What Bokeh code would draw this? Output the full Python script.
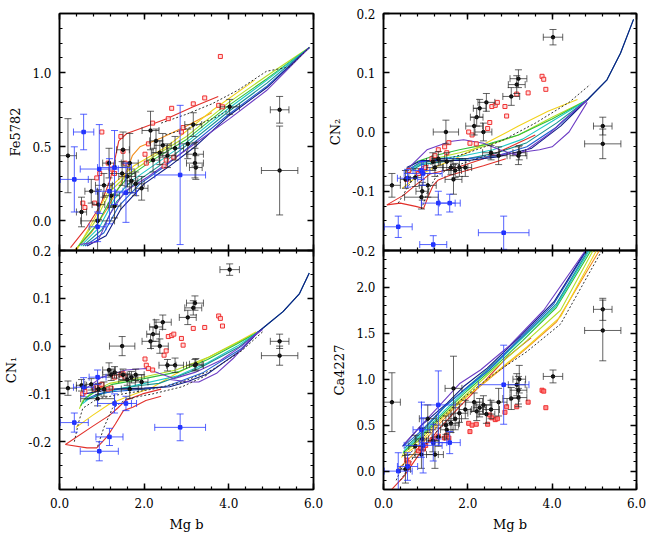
import numpy as np
from bokeh.plotting import figure
from bokeh.models import (ColumnDataSource, Whisker, TeeHead, LinearAxis,
                          SingleIntervalTicker, PrintfTickFormatter, Range1d)
from bokeh.layouts import row, column
from bokeh.embed import file_html
from bokeh.resources import INLINE

# ---------------- observed objects (shared Mg b across panels) ----------------
blk_mgb = [0.2, 0.52, 0.75, 0.9, 0.92, 1.05, 1.17, 1.22, 1.3, 1.48, 1.5, 1.6, 1.66, 1.7, 1.8, 1.94,
           2.15, 2.21, 2.28, 2.37, 2.44, 2.55, 2.73, 3.03, 3.16, 3.2, 3.2, 3.22, 4.02, 5.2, 5.2]
blk_mgb_err = [0.2, 0.12, 0.15, 0.4, 0.15, 0.2, 0.15, 0.2, 0.15, 0.3, 0.15, 0.2, 0.2, 0.15, 0.2, 0.15,
               0.2, 0.15, 0.15, 0.2, 0.2, 0.2, 0.2, 0.2, 0.2, 0.2, 0.2, 0.15, 0.23, 0.22, 0.43]
blk_fe = [0.44, 0.06, 0.2, 0.0, 0.11, 0.24, 0.39, 0.17, 0.1, 0.32, 0.48, 0.3, 0.39, 0.27, 0.25, 0.22,
          0.61, 0.41, 0.54, 0.46, 0.51, 0.44, 0.49, 0.52, 0.65, 0.45, 0.39, 0.36, 0.77, 0.75, 0.34]
blk_fe_err = [0.25, 0.1, 0.08, 0.2, 0.1, 0.08, 0.1, 0.08, 0.08, 0.08, 0.12, 0.07, 0.2, 0.08, 0.08, 0.08,
              0.13, 0.08, 0.08, 0.08, 0.08, 0.08, 0.08, 0.1, 0.08, 0.08, 0.1, 0.08, 0.05, 0.09, 0.3]
blk_cn2 = [-0.09, -0.08, -0.077, -0.11, -0.1, -0.09, -0.05, -0.06, -0.045, 0.0, -0.05, -0.06, -0.08,
           -0.065, -0.06, -0.06, 0.01, 0.025, 0.04, 0.0, 0.05, -0.035, -0.04, 0.06, 0.08, 0.09, -0.04,
           -0.035, 0.16, 0.01, -0.02]
blk_cn2_err = [0.02, 0.015, 0.015, 0.02, 0.015, 0.02, 0.015, 0.015, 0.012, 0.02, 0.015, 0.012, 0.025,
               0.012, 0.015, 0.015, 0.015, 0.015, 0.015, 0.015, 0.015, 0.012, 0.015, 0.015, 0.015,
               0.015, 0.015, 0.012, 0.013, 0.015, 0.025]
blk_cn1 = [-0.088, -0.082, -0.08, -0.11, -0.09, -0.09, -0.05, -0.06, -0.055, 0.0, -0.06, -0.07, -0.09,
           -0.065, -0.06, -0.075, 0.01, 0.025, 0.04, 0.0, 0.05, -0.04, -0.04, 0.06, 0.08, 0.09, -0.04,
           -0.038, 0.16, 0.01, -0.02]
blk_cn1_err = [0.015, 0.012, 0.012, 0.015, 0.012, 0.015, 0.015, 0.012, 0.012, 0.02, 0.012, 0.012, 0.02,
               0.012, 0.012, 0.015, 0.015, 0.015, 0.015, 0.015, 0.015, 0.012, 0.015, 0.015, 0.015,
               0.015, 0.012, 0.012, 0.012, 0.015, 0.02]
blk_ca = [0.75, 0.02, 0.27, 0.18, 0.35, 0.57, 0.33, 0.18, 0.37, 0.5, 0.45, 0.52, 0.9, 0.57, 0.63, 0.67,
          0.75, 0.65, 0.69, 0.72, 0.62, 0.67, 0.75, 0.79, 0.94, 0.88, 0.8, 1.0, 1.03, 1.76, 1.53]
blk_ca_err = [0.32, 0.15, 0.12, 0.15, 0.12, 0.15, 0.12, 0.15, 0.1, 0.1, 0.1, 0.1, 0.35, 0.12, 0.1, 0.1,
              0.1, 0.1, 0.1, 0.1, 0.1, 0.1, 0.15, 0.12, 0.12, 0.15, 0.1, 0.15, 0.07, 0.12, 0.33]

blu_mgb = [0.35, 0.57, 0.94, 1.18, 1.3, 1.57, 2.85, 0.9]
blu_mgb_err = [0.33, 0.24, 0.45, 0.32, 0.4, 0.25, 0.6, 0.2]
blu_fe = [0.28, 0.60, 0.35, 0.2, 0.36, 0.19, 0.31, -0.04]
blu_fe_err = [0.22, 0.12, 0.3, 0.22, 0.25, 0.2, 0.47, 0.1]
blu_cn2 = [-0.16, -0.078, -0.07, -0.19, -0.12, -0.12, -0.17, -0.065]
blu_cn2_err = [0.018, 0.015, 0.02, 0.015, 0.02, 0.015, 0.028, 0.015]
blu_cn1 = [-0.16, -0.086, -0.22, -0.19, -0.12, -0.12, -0.17, -0.065]
blu_cn1_err = [0.02, 0.02, 0.02, 0.018, 0.02, 0.015, 0.028, 0.015]
blu_ca = [0.0, 0.05, 0.28, 0.31, 0.72, 0.31, 0.94, 0.45]
blu_ca_err = [0.2, 0.15, 0.3, 0.2, 0.37, 0.12, 0.43, 0.3]

red_mgb = [0.55, 0.6, 0.83, 0.88, 0.95, 1.0, 1.15, 1.22, 1.3, 1.45, 1.5, 1.55, 2.02, 2.05, 2.1, 2.2,
           2.47, 2.52, 2.57, 2.65, 2.7, 2.88, 2.92, 3.16, 3.43, 3.76, 3.8, 3.85]
red_fe = [0.12, 0.09, 0.12, 0.29, 0.32, 0.6, 0.39, 0.35, 0.32, 0.57, 0.47, 0.39, 0.45, 0.39, 0.52, 0.66,
          0.37, 0.41, 0.69, 0.76, 0.43, 0.6, 0.63, 0.79, 0.83, 0.78, 1.11, 0.77]
red_cn2 = [-0.08, -0.065, -0.07, -0.065, -0.062, -0.06, -0.045, -0.04, -0.03, -0.025, -0.035, -0.018,
           0.0, -0.019, -0.005, -0.02, 0.006, 0.016, 0.043, 0.045, 0.05, 0.043, 0.027, 0.064, 0.066,
           0.094, 0.089, 0.072]
red_cn1 = [-0.1, -0.095, -0.09, -0.085, -0.082, -0.08, -0.09, -0.088, -0.065, -0.06, -0.058, -0.065,
           -0.027, -0.04, -0.047, -0.05, -0.019, -0.01, 0.02, 0.022, 0.025, 0.016, 0.002, 0.037, 0.039,
           0.063, 0.058, 0.042]
red_ca = [0.12, 0.09, 0.22, 0.25, 0.24, 0.28, 0.34, 0.36, 0.38, 0.36, 0.39, 0.36, 0.52, 0.43, 0.5, 0.51,
          0.51, 0.61, 0.58, 0.56, 0.57, 0.64, 0.7, 0.7, 0.75, 0.88, 0.87, 0.69]

# ---------------- model tracks ----------------
fe_keys = ["r", "o", "y", "yg", "g", "c", "t", "b", "n", "p", "k", "k"]
fe_tx = [[0.26, 0.65, 0.96, 1.2, 1.32, 1.4, 1.59, 1.98, 2.53, 3.16, 3.75],
         [0.35, 0.75, 1.1, 1.45, 1.62, 1.72, 1.9, 2.4, 3.0, 3.6],
         [0.4, 0.85, 1.2, 1.75, 2.53, 3.63, 4.61],
         [0.42, 0.85, 1.2, 1.6, 2.2, 3.0, 4.0, 4.9, 5.9],
         [0.45, 0.9, 1.25, 1.6, 2.2, 3.0, 4.0, 4.9, 5.9],
         [0.5, 0.95, 1.3, 1.7, 2.3, 3.0, 4.0, 4.9, 5.9],
         [0.55, 1.0, 1.35, 1.8, 2.4, 3.0, 4.0, 4.9, 5.9],
         [0.6, 1.05, 1.4, 1.9, 2.5, 3.1, 4.0, 4.9, 5.9],
         [0.65, 1.1, 1.45, 2.0, 2.6, 3.2, 4.0, 4.9, 5.9],
         [0.48, 0.9, 1.2, 1.55, 2.1, 3.0, 4.02, 4.89, 5.9],
         [2.4, 3.0, 3.6, 4.2, 4.89, 5.44, 5.9],
         [2.5, 3.1, 3.7, 4.2]]
fe_ty = [[-0.18, -0.04, 0.10, 0.28, 0.43, 0.54, 0.59, 0.63, 0.69, 0.77, 0.84],
         [-0.2, -0.08, 0.07, 0.25, 0.36, 0.44, 0.5, 0.56, 0.64, 0.73],
         [-0.2, 0.03, 0.23, 0.37, 0.50, 0.75, 0.95],
         [-0.18, 0.0, 0.2, 0.31, 0.43, 0.57, 0.8, 0.98, 1.17],
         [-0.17, -0.02, 0.17, 0.29, 0.41, 0.55, 0.78, 0.96, 1.17],
         [-0.17, -0.04, 0.15, 0.27, 0.39, 0.53, 0.76, 0.95, 1.17],
         [-0.17, -0.06, 0.13, 0.26, 0.38, 0.51, 0.74, 0.93, 1.17],
         [-0.17, -0.08, 0.1, 0.25, 0.37, 0.51, 0.72, 0.91, 1.17],
         [-0.17, -0.1, 0.08, 0.25, 0.37, 0.5, 0.71, 0.9, 1.17],
         [-0.16, -0.14, 0.05, 0.2, 0.3, 0.48, 0.69, 0.88, 1.17],
         [0.66, 0.72, 0.79, 0.88, 1.01, 1.04, 1.17],
         [0.58, 0.63, 0.7, 0.78]]

cn2_keys = ["r", "r", "y", "yg", "g", "c", "t", "b", "n", "p", "p", "k", "k"]
cn2_tx = [[0.08, 0.4, 0.79, 0.95, 1.07, 1.18, 1.3, 1.58, 1.97, 2.37, 2.9],
          [0.08, 0.47, 0.79, 1.1, 1.74, 2.37, 3.0, 3.6],
          [0.45, 0.8, 1.2, 1.7, 2.4, 3.2, 3.9, 4.6],
          [0.5, 0.8, 1.2, 1.8, 2.5, 3.2, 4.0, 4.83],
          [0.5, 0.8, 1.2, 1.8, 2.5, 3.2, 4.0, 4.83],
          [0.52, 0.85, 1.3, 1.9, 2.6, 3.3, 4.0, 4.83],
          [0.55, 0.9, 1.4, 2.0, 2.7, 3.4, 4.1, 4.83, 5.3, 5.62, 5.93],
          [0.55, 0.9, 1.4, 2.0, 2.7, 3.4, 4.1, 4.83],
          [0.55, 0.9, 1.4, 2.0, 2.7, 3.5, 4.2, 4.83, 5.3, 5.62, 5.93],
          [0.55, 1.03, 1.58, 1.9, 2.37, 2.76, 3.16, 3.4, 3.95, 4.27, 4.83],
          [2.5, 3.2, 3.7, 4.0, 4.4, 4.83],
          [0.35, 0.6, 0.9, 1.3, 2.0, 2.8, 3.6, 4.4, 4.9],
          [0.9, 1.05, 1.25, 1.6, 2.2, 2.9]]
cn2_ty = [[-0.123, -0.12, -0.126, -0.129, -0.107, -0.09, -0.081, -0.073, -0.065, -0.057, -0.045],
          [-0.123, -0.107, -0.088, -0.071, -0.06, -0.045, -0.025, -0.005],
          [-0.095, -0.075, -0.06, -0.045, -0.02, 0.01, 0.035, 0.055],
          [-0.07, -0.055, -0.045, -0.035, -0.022, -0.005, 0.025, 0.054],
          [-0.065, -0.05, -0.04, -0.03, -0.02, -0.005, 0.022, 0.054],
          [-0.068, -0.055, -0.045, -0.04, -0.03, -0.012, 0.018, 0.054],
          [-0.07, -0.055, -0.05, -0.045, -0.035, -0.018, 0.015, 0.054, 0.088, 0.133, 0.19],
          [-0.065, -0.05, -0.045, -0.045, -0.04, -0.025, 0.008, 0.054],
          [-0.06, -0.048, -0.048, -0.048, -0.042, -0.028, 0.01, 0.054, 0.088, 0.133, 0.19],
          [-0.064, -0.03, -0.016, -0.013, -0.019, -0.03, -0.039, -0.03, -0.002, 0.02, 0.054],
          [-0.04, -0.035, -0.03, -0.025, 0.0, 0.05],
          [-0.12, -0.09, -0.06, -0.05, -0.035, -0.015, 0.015, 0.05, 0.08],
          [-0.13, -0.1, -0.075, -0.06, -0.045, -0.03]]

cn1_keys = ["r", "r", "y", "yg", "g", "c", "t", "b", "n", "p", "p", "k", "k"]
cn1_tx = [[0.14, 0.65, 0.88, 1.12, 1.32, 1.51, 1.73, 2.04, 2.4],
          [0.14, 0.78, 1.18, 1.37, 1.57, 1.96, 2.4],
          [0.39, 0.78, 1.18, 1.57, 2.2, 2.75, 3.53, 4.24, 4.65],
          [0.47, 0.55, 0.78, 1.18, 1.96, 2.75, 3.53, 4.24, 4.7],
          [0.5, 0.6, 0.85, 1.25, 2.0, 2.8, 3.5, 4.2, 4.7],
          [0.55, 0.7, 1.0, 1.4, 2.0, 2.8, 3.5, 4.2, 4.7],
          [0.6, 0.8, 1.18, 1.96, 2.35, 2.75, 3.29, 4.24, 4.7, 5.28, 5.67, 5.9],
          [0.65, 0.9, 1.3, 2.0, 2.5, 2.9, 3.4, 4.3, 4.7],
          [0.6, 0.9, 1.3, 2.0, 2.6, 3.0, 3.5, 4.3, 4.7, 5.28, 5.67, 5.9],
          [0.6, 1.0, 1.57, 2.04, 2.35, 2.7, 3.2, 3.8, 4.3, 4.7],
          [2.6, 3.08, 3.29, 3.71, 4.1, 4.56, 4.8],
          [0.35, 0.45, 0.55, 0.9, 1.5, 2.2, 2.9, 3.6, 4.3, 4.8],
          [0.9, 1.05, 1.25, 1.6, 2.2, 2.9, 3.5]]
cn1_ty = [[-0.206, -0.213, -0.213, -0.19, -0.163, -0.135, -0.128, -0.114, -0.105],
          [-0.206, -0.168, -0.145, -0.13, -0.113, -0.1, -0.09],
          [-0.17, -0.145, -0.121, -0.107, -0.086, -0.058, -0.023, 0.01, 0.03],
          [-0.131, -0.114, -0.096, -0.078, -0.065, -0.05, -0.023, 0.009, 0.03],
          [-0.125, -0.11, -0.095, -0.08, -0.068, -0.054, -0.028, 0.005, 0.03],
          [-0.12, -0.11, -0.1, -0.09, -0.078, -0.062, -0.035, 0.0, 0.03],
          [-0.113, -0.107, -0.092, -0.082, -0.078, -0.065, -0.047, -0.002, 0.03, 0.072, 0.11, 0.153],
          [-0.11, -0.1, -0.095, -0.09, -0.085, -0.072, -0.055, -0.005, 0.03],
          [-0.1, -0.095, -0.09, -0.088, -0.085, -0.075, -0.058, -0.008, 0.03, 0.072, 0.11, 0.153],
          [-0.09, -0.065, -0.05, -0.047, -0.057, -0.068, -0.055, -0.03, 0.0, 0.03],
          [-0.07, -0.075, -0.075, -0.057, -0.026, 0.018, 0.035],
          [-0.2, -0.16, -0.13, -0.11, -0.1, -0.09, -0.075, -0.05, -0.01, 0.03],
          [-0.21, -0.17, -0.13, -0.11, -0.1, -0.085, -0.06]]

ca_keys = ["r", "o", "y", "yg", "g", "c", "t", "b", "n", "p", "k", "k"]
ca_tx = [[0.09, 0.48, 0.9, 1.3, 1.8, 2.4, 2.93, 3.5],
         [0.3, 0.7, 1.2, 1.8, 2.5, 3.3, 4.1, 5.12],
         [0.42, 0.85, 1.4, 2.0, 2.6, 3.4, 4.2, 5.05],
         [0.45, 0.9, 1.45, 2.0, 2.6, 3.4, 4.2, 4.97],
         [0.46, 0.9, 1.45, 2.0, 2.6, 3.3, 4.1, 4.92],
         [0.48, 0.9, 1.45, 1.95, 2.5, 3.3, 4.1, 4.88],
         [0.5, 0.9, 1.45, 1.95, 2.5, 3.3, 4.1, 4.85],
         [0.5, 0.9, 1.4, 1.9, 2.5, 3.25, 4.04, 4.82],
         [0.45, 0.88, 1.51, 1.9, 2.46, 3.25, 4.04, 4.8],
         [0.5, 0.9, 1.3, 1.8, 2.3, 3.0, 3.8, 4.79],
         [0.3, 0.5, 0.8, 1.3, 1.9, 2.6, 3.4, 4.2, 5.18],
         [0.4, 0.55, 0.7, 1.0, 1.3]]
ca_ty = [[-0.25, -0.06, 0.22, 0.45, 0.7, 0.98, 1.24, 1.45],
         [0.0, 0.18, 0.45, 0.75, 1.0, 1.3, 1.62, 2.4],
         [0.15, 0.3, 0.58, 0.82, 1.05, 1.35, 1.68, 2.4],
         [0.18, 0.36, 0.62, 0.85, 1.1, 1.42, 1.75, 2.4],
         [0.2, 0.38, 0.64, 0.88, 1.12, 1.42, 1.78, 2.4],
         [0.22, 0.4, 0.66, 0.88, 1.1, 1.45, 1.8, 2.4],
         [0.25, 0.42, 0.7, 0.9, 1.12, 1.46, 1.82, 2.4],
         [0.28, 0.44, 0.68, 0.88, 1.1, 1.45, 1.82, 2.4],
         [0.27, 0.49, 0.74, 0.92, 1.12, 1.47, 1.84, 2.4],
         [0.3, 0.5, 0.7, 0.95, 1.1, 1.37, 1.75, 2.4],
         [-0.1, 0.1, 0.3, 0.55, 0.8, 1.05, 1.3, 1.6, 2.4],
         [-0.1, 0.0, 0.15, 0.3, 0.45]]

# ---------------- styles ----------------
PAL = {"r": "#e2302a", "o": "#f3901e", "y": "#f2d21c", "yg": "#b4df26", "g": "#2fbf3a",
       "c": "#1fc9c6", "t": "#14918f", "b": "#1e5fd2", "n": "#0d1a86", "p": "#6d3cc4", "k": "#333333"}
FONT = "DejaVu Serif"


def style_axis(ax, ticker, labels):
    ax.ticker = ticker
    ax.formatter = PrintfTickFormatter(format="%.1f")
    ax.major_tick_in = 6
    ax.major_tick_out = 0
    ax.minor_tick_in = 3
    ax.minor_tick_out = 0
    ax.axis_line_color = "black"
    ax.axis_line_width = 1.5
    ax.major_tick_line_color = "black"
    ax.major_tick_line_width = 1.5
    ax.minor_tick_line_color = "black"
    ax.minor_tick_line_width = 1.2
    if labels:
        ax.major_label_text_font = FONT
        ax.major_label_text_font_size = "12px"
        ax.major_label_text_color = "black"
        ax.major_label_standoff = 8
        ax.axis_label_text_font = FONT
        ax.axis_label_text_font_size = "13px"
        ax.axis_label_text_font_style = "normal"
        ax.axis_label_text_color = "black"
        ax.axis_label_standoff = 6
    else:
        ax.major_label_text_font_size = "0px"
        ax.major_label_text_color = None
        ax.major_label_standoff = 0
        ax.axis_label_standoff = 0


def make_panel(yr, yint, ylabel, xlabels, fw, fh, bl, br, bt, bb,
               keys, tx, ty, by, bye, uy, uye, ry, red_fill):
    p = figure(frame_width=fw, frame_height=fh, x_range=Range1d(0, 6), y_range=Range1d(*yr),
               output_backend="svg", toolbar_location=None,
               min_border_left=bl, min_border_right=br, min_border_top=bt, min_border_bottom=bb)
    p.outline_line_color = "black"
    p.outline_line_width = 1.5
    p.xgrid.visible = False
    p.ygrid.visible = False
    if xlabels:
        # lower panels overlap the upper panels' bottom strip (transparent)
        p.background_fill_color = None
        p.border_fill_color = None
        p.margin = (-16, 0, 0, 0)
    xt = SingleIntervalTicker(interval=2, num_minor_ticks=5)
    yt = SingleIntervalTicker(interval=yint, num_minor_ticks=(4 if yint < 0.3 else 5))
    style_axis(p.xaxis[0], xt, xlabels)
    if xlabels:
        p.xaxis[0].axis_label = "Mg b"
    style_axis(p.yaxis[0], yt, True)
    p.yaxis[0].axis_label = ylabel
    top = LinearAxis()
    style_axis(top, xt, False)
    p.add_layout(top, "above")
    right = LinearAxis()
    style_axis(right, yt, False)
    p.add_layout(right, "right")

    for k, xs, ys in zip(keys, tx, ty):
        if k == "k":
            p.line(xs, ys, line_color=PAL[k], line_width=1, line_dash="2 2")
        else:
            p.line(xs, ys, line_color=PAL[k], line_width=1.1)

    def bars(xv, xe, yv, ye, color, alpha):
        xv = np.array(xv, float); xe = np.array(xe, float)
        yv = np.array(yv, float); ye = np.array(ye, float)
        src = ColumnDataSource(dict(x=xv, y=yv, xl=xv - xe, xu=xv + xe, yl=yv - ye, yu=yv + ye))
        for base, lo, up, dim in (("y", "xl", "xu", "width"), ("x", "yl", "yu", "height")):
            w = Whisker(source=src, base=base, lower=lo, upper=up, dimension=dim,
                        line_color=color, line_alpha=alpha, line_width=1, level="glyph",
                        lower_head=TeeHead(size=7, line_color=color, line_alpha=alpha, line_width=1),
                        upper_head=TeeHead(size=7, line_color=color, line_alpha=alpha, line_width=1))
            p.add_layout(w)
        return src

    bsrc = bars(blk_mgb, blk_mgb_err, by, bye, "#222222", 0.7)
    usrc = bars(blu_mgb, blu_mgb_err, uy, uye, "#2a3cff", 0.8)
    p.scatter(red_mgb, ry, marker="square", size=4, line_color="#f03030", line_width=1,
              fill_color=red_fill, fill_alpha=0.8)
    p.scatter("x", "y", source=bsrc, marker="circle", size=3.5, color="black")
    p.scatter("x", "y", source=usrc, marker="square", size=3.5, color="#1a2cff")
    return p


p_fe = make_panel((-0.2, 1.4), 0.5, "Fe5782", False, 254, 237, 59, 10, 13, 8,
                  fe_keys, fe_tx, fe_ty, blk_fe, blk_fe_err, blu_fe, blu_fe_err, red_fe, "#ffd6d6")
p_cn2 = make_panel((-0.2, 0.2), 0.1, "CN₂", False, 253, 237, 60, 14, 13, 8,
                   cn2_keys, cn2_tx, cn2_ty, blk_cn2, blk_cn2_err, blu_cn2, blu_cn2_err, red_cn2, "#ffd6d6")
p_cn1 = make_panel((-0.3, 0.2), 0.1, "CN₁", True, 254, 239, 59, 10, 8, 48,
                   cn1_keys, cn1_tx, cn1_ty, blk_cn1, blk_cn1_err, blu_cn1, blu_cn1_err, red_cn1, "#ffd6d6")
p_ca = make_panel((-0.2, 2.4), 0.5, "Ca4227", True, 253, 239, 60, 14, 8, 48,
                  ca_keys, ca_tx, ca_ty, blk_ca, blk_ca_err, blu_ca, blu_ca_err, red_ca, "#ff7070")

layout = row(column(p_fe, p_cn1), column(p_cn2, p_ca))
open("out.html", "w").write(file_html(layout, INLINE))
